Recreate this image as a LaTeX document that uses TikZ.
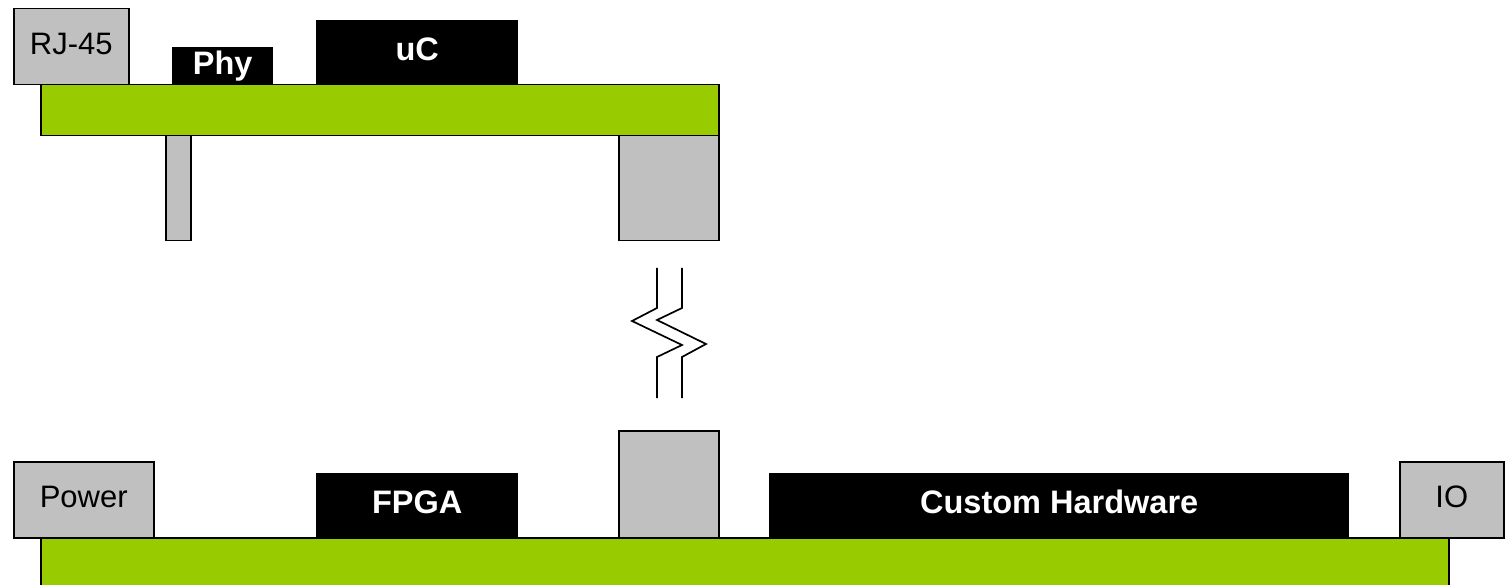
\documentclass[tikz,border=0pt]{standalone}
\usepackage{fontspec}
\setmainfont{Liberation Sans}
\definecolor{pcbgreen}{HTML}{99CC00}
\definecolor{partgray}{HTML}{C0C0C0}
\tikzset{
  board/.style={draw=black, line width=1.5pt, fill=pcbgreen, anchor=north west, inner sep=0pt},
  graypart/.style={draw=black, line width=1.5pt, fill=partgray, anchor=north west, inner sep=0pt,
    font=\fontsize{31}{31}\selectfont, text height=22pt, text depth=6pt},
  chip/.style={fill=black, anchor=north west, inner sep=0pt, text=white,
    font=\fontsize{32.5}{32.5}\selectfont\bfseries, text height=23pt, text depth=6pt},
  pin/.style={draw=black, line width=1.5pt, fill=partgray, anchor=north west, inner sep=0pt},
  breakline/.style={draw=black, line width=1.7pt, line join=miter}
}
\begin{document}
\begin{tikzpicture}[x=1pt, y=-1pt]
\useasboundingbox (0,0) rectangle (1507,585);

% upper module: pins below the board
\node[pin, minimum width=25pt, minimum height=106pt] (pinA) at (165,134) {};
\node[pin, minimum width=100pt, minimum height=106pt] (connA) at (618,134) {};
\node[board, minimum width=678pt, minimum height=51pt] (topboard) at (40,84) {};
\node[graypart, minimum width=115pt, minimum height=76pt] (rj) at (13,8) {RJ-45};
\node[chip, minimum width=101pt, minimum height=37pt] (phy) at (172,47) {Phy};
\node[chip, minimum width=202pt, minimum height=64pt] (uc) at (316,20) {uC};

% cut in the connection between the two boards
\coordinate (la) at (657,268);
\coordinate (ra) at (682,268);
\draw[breakline] (la) -- (657,308) -- (632,321) -- (682,345) -- (657,357) -- (657,398);
\draw[breakline] (ra) -- (682,308) -- (657,320) -- (706,344) -- (682,357) -- (682,398);

% lower board
\node[board, minimum width=1408pt, minimum height=60pt] (bottomboard) at (40,537) {};
\node[graypart, minimum width=140pt, minimum height=76pt] (power) at (13,461) {Power};
\node[chip, minimum width=202pt, minimum height=64pt] (fpga) at (316,473) {FPGA};
\node[pin, minimum width=100pt, minimum height=107pt] (connB) at (618,430) {};
\node[chip, minimum width=580pt, minimum height=64pt] (custom) at (769,473) {Custom Hardware};
\node[graypart, minimum width=104pt, minimum height=76pt] (io) at (1399,461) {IO};
\end{tikzpicture}
\end{document}
